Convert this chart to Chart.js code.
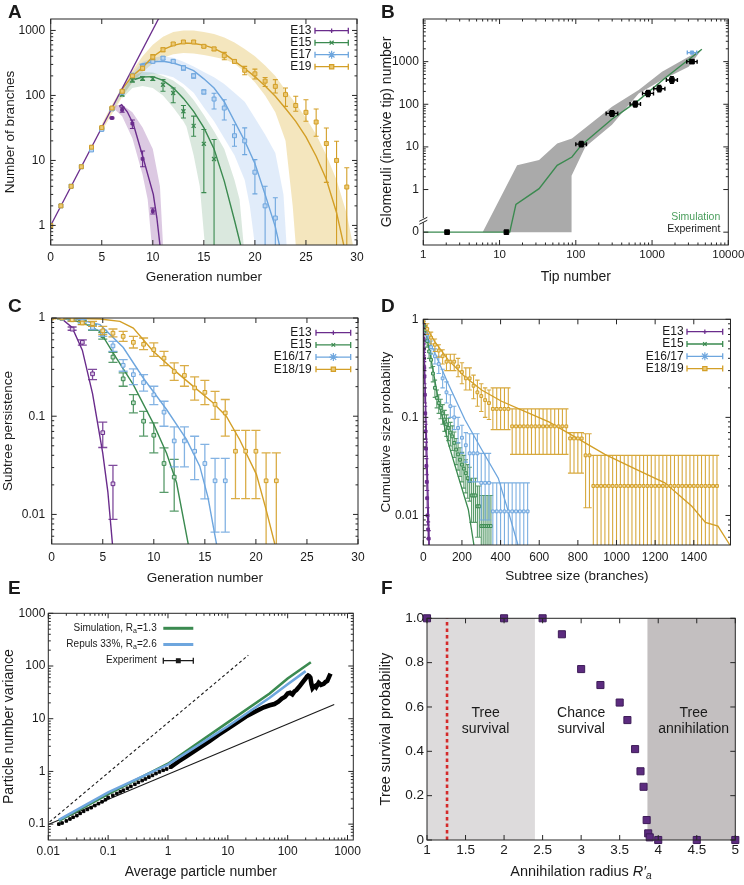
<!DOCTYPE html>
<html>
<head>
<meta charset="utf-8">
<title>Branching and annihilation</title>
<script src="https://cdn.jsdelivr.net/npm/chart.js@4.4.1/dist/chart.umd.min.js"></script>
<style>
  body { margin: 0; background: #fff; }
  #fig { position: relative; width: 744px; height: 885px; overflow: hidden; font-family: "Liberation Sans", Arial, sans-serif; color: #1a1a1a; }
  #fig canvas { position: absolute; }
  .tag { position: absolute; font-size: 19px; font-weight: bold; line-height: 19px; }
  .xt { position: absolute; font-size: 14.5px; line-height: 17px; text-align: center; }
  .xt sub { font-size: 70%; vertical-align: -3px; line-height: 0; }
</style>
</head>
<body>
<div id="fig">
  <canvas id="A"></canvas>
  <canvas id="B"></canvas>
  <canvas id="C"></canvas>
  <canvas id="D"></canvas>
  <canvas id="E"></canvas>
  <canvas id="F"></canvas>
  <div class="tag" style="left:8px;top:2px">A</div>
  <div class="tag" style="left:381px;top:2px">B</div>
  <div class="tag" style="left:8px;top:296px">C</div>
  <div class="tag" style="left:381px;top:296px">D</div>
  <div class="tag" style="left:8px;top:578px">E</div>
  <div class="tag" style="left:381px;top:578px">F</div>
  <div class="xt" style="left:427px;width:308px;top:863px">Annihilation radius <i>R′<sub>a</sub></i></div>
</div>
<script>
const FONT = '"Liberation Sans", Arial, Helvetica, sans-serif';
const INK = '#1a1a1a';
const PURPLE = '#6a2c8c', GREEN = '#3b8a50', BLUE = '#6ea6de', GOLD = '#d39f27';

// ---------- A: branches per generation ----------
const aGen = [0,1,2,3,4,5,6,7,8,9,10,11,12,13,14,15,16,17,18,19,20,21,22,23,24,25,26,27,28,29];
const a13 = [1,2,4,8,16,32,45,60,37,10.6,1.66];
const a13Lo = [1,2,4,8,16,32,44,55,31,8,1.5];
const a13Hi = [1,2,4,8,16,32,46,66,42,14,1.85];
const a15 = [1,2,4,8,15,31,62,103,172,183,180,146,109,57,34,18,10.5];
const a15Lo = [1,2,4,8,15,30,60,98,160,170,170,116,77,45,23.6,3.2,0.3];
const a15Hi = [1,2,4,8,15,32,64,108,185,196,192,175,130,70,48,30,21];
const a17 = [1,2,4,8,14.5,30,62,112,205,275,335,375,335,265,200,113,88,64,24,20,6.6,2,1.3];
const a17Lo = [1,2,4,8,14,29,60,108,195,255,315,355,315,245,185,105,62,42,16.5,12.3,3.06,0.3,0.3];
const a17Hi = [1,2,4,8,15,31,64,116,215,295,355,395,350,285,215,122,108,86,35.5,31.7,10.3,4,2.66];
const a19 = [1,2,4,8,16,32,64,116,200,262,390,505,620,665,665,570,520,408,334,244,215,166,138,103,70,55,39,18.2,10,3.9];
const a19Lo = [1,2,4,8,16,31,62,110,190,245,355,470,590,630,630,545,490,355,315,208,179,137,109,68,57,40,23.5,4.6,0.3,0.3];
const a19Hi = [1,2,4,8,16,33,66,122,210,280,425,540,650,700,700,595,550,460,355,280,254,189,175,130,97,86,62,31.6,19.7,7.7];
const aExp = [[0,1],[11,2048]];
const a13Fit = [[6.7,68],[6.95,72],[7.5,56],[8.1,36],[9.05,11],[10.05,3],[10.4,1.3],[10.7,0.5]];
const a15Fit = [[8.2,176],[9,192],[10,195],[11,170],[12,131],[13,90],[14,57],[15,32],[16,15],[17,4.8],[18,1.2],[18.6,0.5]];
const a17Fit = [[8.7,300],[10,330],[11,335],[12,315],[13,280],[14,240],[15,180],[16,130],[17,80],[18,40],[19,20],[20,9],[21,3],[22,0.95],[22.4,0.5]];
const a19Fit = [[7,125],[8,200],[9,270],[10,395],[11,505],[12,590],[13,640],[14,630],[15,594],[16,530],[17,440],[18,338],[19,260],[20,195],[21,140],[22,97],[23,63],[24,40],[25,23],[26,11.6],[27,5.1],[28,1.57],[28.7,0.5]];
const a13Band = [[6.3,70],[7,72],[8,55],[9,32],[10,15],[10.7,4],[11,0.5],[9.9,0.5],[9.5,2.5],[9,6],[8,22],[7,48],[6.3,60]];
const a15Band = [[7,110],[8,200],[9,230],[10,225],[11,200],[12,170],[13,130],[14,85],[15,50],[16,28],[17,15],[18,5],[18.5,2.5],[18.9,0.5],[15.1,0.5],[14.6,4],[14,12],[13.3,33],[13,40],[12,65],[11,100],[10,130],[9,140],[8,130],[7,90]];
const a17Band = [[6,66],[7,130],[8,220],[9,330],[10,380],[11,400],[12,380],[13,330],[14,280],[15,230],[16,190],[17,150],[18,110],[19,80],[20,45],[21,25],[22,13],[22.8,3],[23.1,0.5],[20,0.5],[19.5,2],[19,5],[18,12],[17,22],[16,40],[15,65],[14,110],[13,150],[12,190],[11,210],[10,215],[9,200],[8,160],[7,100],[6,58]];
const a19Band = [[5,36],[6,72],[7,135],[8,240],[9,400],[10,600],[11,800],[12,950],[13,1000],[14,1000],[15,950],[16,880],[17,780],[18,650],[19,520],[20,400],[21,290],[22,200],[23,120],[24,75],[25,45],[26,25],[27,12],[28,5],[29,1.5],[29.6,0.5],[24,0.5],[23.7,2],[23,20],[22,55],[21,100],[20,160],[19,230],[18,310],[17,360],[16,390],[15,420],[14,440],[13,450],[12,430],[11,380],[10,310],[9,230],[8,160],[7,95],[6,52],[5,28]];

// ---------- B: glomeruli vs tips ----------
const bTips = [2.05,12.3,118,298,603,885,1245,1820,3340];
const bTipLo = [2.05,12.3,100,250,515,750,1050,1540,2850];
const bTipHi = [2.05,12.3,138,355,705,1045,1475,2150,3900];
const bGlom = [0.1,0.1,11.6,61,101,180,232,371,1000];
const bGlomLo = [0.1,0.1,10,52,86,152,196,310,920];
const bGlomHi = [0.1,0.1,13.4,71,118,212,275,445,1080];
const bBlueTip = [3340], bBlueTipLo = [2900], bBlueTipHi = [3850], bBlueGlom = [1630];
const bSim = [[1,0.1],[13.6,0.1],[16.4,0.45],[33,1.05],[57,3.7],[89,5.8],[118,11],[300,45],[670,125],[1500,420],[4500,1950]];
const bRange = [[6,0.1],[17,3.7],[33,4.9],[57,12],[89,15.8],[298,87],[668,215],[1350,580],[4500,1950],[3020,760],[1350,370],[668,180],[298,33],[133,10],[88,2.1],[88,0.1]];

// ---------- C: subtree persistence ----------
const cGen13 = [2,3,4,5,6];
const c13 = [0.77,0.566,0.27,0.068,0.0205];
const c13Lo = [0.75,0.53,0.236,0.048,0.0089];
const c13Hi = [0.81,0.6,0.3,0.087,0.0316];
const cGen15 = [1,2,3,4,5,6,7,8,9,10,11,12];
const c15 = [0.99,0.96,0.9,0.8,0.66,0.4,0.24,0.137,0.089,0.064,0.033,0.024];
const c15Lo = [0.97,0.93,0.86,0.75,0.61,0.354,0.202,0.108,0.0627,0.0424,0.0168,0.0108];
const c15Hi = [1,0.99,0.94,0.85,0.71,0.448,0.276,0.166,0.112,0.0856,0.0477,0.0364];
const cGen17 = [1,2,3,4,5,6,7,8,9,10,11,12,13,14,15,16,17];
const c17 = [0.99,0.97,0.93,0.8,0.7,0.52,0.33,0.265,0.22,0.165,0.11,0.056,0.056,0.044,0.033,0.022,0.022];
const c17Lo = [0.97,0.94,0.89,0.76,0.65,0.458,0.287,0.21,0.18,0.131,0.079,0.0305,0.0305,0.0226,0.0144,0.0066,0.0066];
const c17Hi = [1,1,0.97,0.84,0.75,0.579,0.377,0.303,0.265,0.202,0.142,0.078,0.078,0.0625,0.0516,0.0372,0.0372];
const cGen19 = [0,1,2,3,4,5,6,7,8,9,10,11,12,13,14,15,16,17,18,19,20,21,22];
const c19 = [1,1,0.96,0.89,0.875,0.74,0.7,0.65,0.565,0.54,0.476,0.39,0.285,0.26,0.194,0.175,0.132,0.108,0.044,0.044,0.044,0.022,0.022];
const c19Lo = [0.98,0.98,0.93,0.855,0.823,0.677,0.641,0.579,0.495,0.476,0.407,0.328,0.232,0.202,0.146,0.131,0.0927,0.0627,0.0145,0.0145,0.0145,0.004,0.004];
const c19Hi = [1,1,0.99,0.925,0.925,0.823,0.773,0.732,0.651,0.626,0.557,0.458,0.349,0.328,0.251,0.232,0.179,0.148,0.0719,0.0719,0.0719,0.0424,0.0424];
const c13Fit = [[0,1],[1,0.98],[2,0.8],[3,0.47],[4,0.17],[5,0.042],[5.5,0.017],[5.95,0.005]];
const c15Fit = [[0,1],[1.5,0.98],[3.1,0.89],[4.73,0.73],[6.03,0.44],[7.99,0.21],[9.94,0.085],[11.25,0.042],[12.23,0.021],[13.37,0.005]];
const c17Fit = [[0,1],[2.5,0.97],[4.73,0.855],[7.01,0.5],[8.97,0.245],[11.25,0.117],[13.2,0.058],[14.5,0.031],[15.3,0.015],[16.14,0.005]];
const c19Fit = [[0,1],[4.73,0.977],[6.68,0.925],[7.99,0.79],[9.94,0.458],[11.9,0.3],[13.9,0.2],[15.8,0.137],[17.1,0.1],[18.4,0.058],[20.05,0.0256],[21,0.0112],[21.85,0.005]];

// ---------- D: cumulative subtree size ----------
const dSize13 = [0,1,2,3,4,5,6,8,10,12,14,16,18,20,22,25,28];
const d13 = [1,0.8,0.63,0.5,0.4,0.32,0.26,0.17,0.11,0.072,0.048,0.032,0.022,0.015,0.01,0.0072,0.0058];
const d13Lo = [0.9,0.7,0.55,0.43,0.34,0.27,0.22,0.14,0.09,0.06,0.04,0.026,0.018,0.012,0.008,0.0058,0.0046];
const d13Hi = [1,0.9,0.72,0.57,0.46,0.37,0.3,0.2,0.13,0.085,0.056,0.038,0.026,0.018,0.012,0.0086,0.007];
const dSize15 = [0,10,20,30,40,50,60,70,80,90,100,110,120,130,140,150,160,170,180,190,200,210,220,230,240,250,260,270,280,290,300,310,320,330,340,350];
const d15 = [1,0.78,0.6,0.47,0.386,0.28,0.2,0.158,0.14,0.125,0.11,0.095,0.085,0.078,0.07,0.064,0.055,0.047,0.042,0.037,0.033,0.03,0.027,0.024,0.0224,0.016,0.016,0.016,0.0124,0.0124,0.0078,0.0078,0.0078,0.0078,0.0078,0.0078];
const d15Lo = [0.95,0.7,0.52,0.4,0.32,0.23,0.16,0.125,0.11,0.097,0.085,0.072,0.064,0.058,0.051,0.046,0.039,0.033,0.029,0.025,0.022,0.019,0.017,0.015,0.014,0.0085,0.0085,0.0085,0.006,0.006,0.003,0.003,0.003,0.003,0.003,0.003];
const d15Hi = [1,0.86,0.68,0.54,0.45,0.33,0.24,0.19,0.17,0.153,0.135,0.118,0.106,0.098,0.089,0.082,0.071,0.061,0.055,0.049,0.044,0.041,0.037,0.033,0.031,0.024,0.024,0.024,0.02,0.02,0.016,0.016,0.016,0.016,0.016,0.016];
const dSize17 = [0,20,40,60,80,100,120,140,160,180,200,220,240,260,280,300,320,340,360,380,400,420,440,460,480,500,520,540];
const d17 = [1,0.7,0.52,0.42,0.35,0.25,0.18,0.13,0.1,0.078,0.062,0.052,0.043,0.043,0.043,0.0215,0.0215,0.0215,0.011,0.011,0.011,0.011,0.011,0.011,0.011,0.011,0.011,0.011];
const d17Lo = [0.95,0.6,0.44,0.35,0.28,0.2,0.14,0.1,0.075,0.055,0.043,0.035,0.022,0.022,0.022,0.009,0.009,0.009,0.001,0.001,0.001,0.001,0.001,0.001,0.001,0.001,0.001,0.001];
const d17Hi = [1,0.8,0.6,0.5,0.42,0.31,0.23,0.17,0.13,0.1,0.083,0.07,0.068,0.068,0.068,0.043,0.043,0.043,0.0215,0.0215,0.0215,0.0215,0.0215,0.0215,0.0215,0.0215,0.0215,0.0215];
const dSize19 = [0,20,40,60,80,100,120,140,160,180,200,220,240,260,280,300,320,340,360,380,400,420,440,460,480,500,520,540,560,580,600,620,640,660,680,700,720,740,760,780,800,820,840,860,880,900,920,940,960,980,1000,1020,1040,1060,1080,1100,1120,1140,1160,1180,1200,1220,1240,1260,1280,1300,1320,1340,1360,1380,1400,1420,1440,1460,1480,1500,1520];
const d19 = [1,0.8,0.65,0.55,0.48,0.42,0.37,0.37,0.37,0.33,0.29,0.25,0.25,0.21,0.18,0.165,0.15,0.14,0.122,0.122,0.122,0.122,0.122,
  0.081,0.081,0.081,0.081,0.081,0.081,0.081,0.081,0.081,0.081,0.081,0.081,0.081,0.081,0.081,
  0.061,0.061,0.061,0.061,0.041,0.041,
  0.02,0.02,0.02,0.02,0.02,0.02,0.02,0.02,0.02,0.02,0.02,0.02,0.02,0.02,0.02,0.02,0.02,0.02,0.02,0.02,0.02,0.02,0.02,0.02,0.02,0.02,0.02,0.02,0.02,0.02,0.02,0.02,0.02];
const d19Lo = [0.95,0.7,0.56,0.47,0.41,0.35,0.3,0.3,0.3,0.26,0.22,0.19,0.19,0.155,0.13,0.115,0.1,0.095,0.075,0.075,0.075,0.075,0.075,
  0.042,0.042,0.042,0.042,0.042,0.042,0.042,0.042,0.042,0.042,0.042,0.042,0.042,0.042,0.042,
  0.027,0.027,0.027,0.027,0.012,0.012,
  0.001,0.001,0.001,0.001,0.001,0.001,0.001,0.001,0.001,0.001,0.001,0.001,0.001,0.001,0.001,0.001,0.001,0.001,0.001,0.001,0.001,0.001,0.001,0.001,0.001,0.001,0.001,0.001,0.001,0.001,0.001,0.001,0.001];
const d19Hi = [1,0.9,0.74,0.63,0.55,0.49,0.44,0.44,0.44,0.4,0.36,0.32,0.32,0.27,0.24,0.22,0.2,0.19,0.2,0.2,0.2,0.2,0.2,
  0.122,0.122,0.122,0.122,0.122,0.122,0.122,0.122,0.122,0.122,0.122,0.122,0.122,0.122,0.122,
  0.07,0.07,0.07,0.07,0.068,0.068,
  0.041,0.041,0.041,0.041,0.041,0.041,0.041,0.041,0.041,0.041,0.041,0.041,0.041,0.041,0.041,0.041,0.041,0.041,0.041,0.041,0.041,0.041,0.041,0.041,0.041,0.041,0.041,0.041,0.041,0.041,0.041,0.041,0.041];
const d13Fit = [[0,1],[10,0.2],[20,0.035],[31,0.005]];
const d15Fit = [[0,1],[35,0.45],[78,0.15],[129,0.055],[181,0.025],[233,0.0115],[262,0.005]];
const d17Fit = [[0,1],[30,0.6],[60,0.45],[129,0.22],[215,0.095],[302,0.047],[388,0.024],[440,0.011],[490,0.005]];
const d19Fit = [[0,1],[20,0.8],[60,0.59],[129,0.386],[215,0.26],[302,0.19],[405,0.146],[525,0.115],[650,0.09],[780,0.064],[940,0.042],[1110,0.029],[1250,0.0215],[1390,0.0124],[1460,0.0085],[1525,0.0078],[1587,0.005]];

// ---------- E: number fluctuations ----------
const eMean = [0.015,0.017,0.02,0.023,0.026,0.03,0.034,0.039,0.045,0.052,0.06,0.069,0.079,0.09,0.1,0.12,0.14,0.16,0.18,0.21,0.24,0.28,0.32,0.37,0.42,0.48,0.55,0.63,0.72,0.83,0.95,1.1,
  1.5,2,3,5,7,10,15,20,30,40,50,60,70,80,90,100,110,120,130,140,160,180,200,210,220,230,240,250,260,270,290,300,330,360,400,430,460,500,520];
const eVar = [0.1,0.105,0.115,0.125,0.135,0.145,0.16,0.175,0.19,0.205,0.225,0.245,0.265,0.29,0.32,0.35,0.38,0.41,0.44,0.48,0.52,0.57,0.62,0.67,0.72,0.78,0.84,0.91,0.98,1.05,1.11,1.2,
  1.55,1.9,2.6,3.8,5,6.5,8.8,11,14,16.5,18,19,21,24,26,30,31,29,33,35,42,50,58,63,66,64,60,45,38,40,42,40,48,44,46,50,52,65,72];
const eSim = [[0.015,0.115],[0.1,0.37],[1,1.4],[10,8.5],[50,30],[100,58],[244,118]];
const eRepuls = [[0.015,0.12],[0.1,0.4],[1,1.35],[10,7.2],[50,25],[100,45],[200,80]];
const eSteep = [[0.0105,0.11],[22,160]];
const eShallow = [[0.01,0.098],[600,18.6]];

// ---------- F: survival vs annihilation radius ----------
const fRadius = [1,2,2.5,2.75,3,3.25,3.5,3.6,3.7,3.77,3.81,3.85,3.87,3.89,4,4.5,5];
const fSurvive = [1,1,1,0.928,0.771,0.699,0.62,0.541,0.41,0.31,0.24,0.09,0.03,0.012,0,0,0];
const fSafeZone = [[1,0],[2.4,0],[2.4,1],[1,1]];
const fDeathZone = [[3.86,0],[5,0],[5,1],[3.86,1]];
const fCutoff = [[1.26,0],[1.26,1]];

// legends, notes and frame extras, per canvas
const EXTRA = {
  A: {key: {top: 11.7, row: 12, right: 8.7, sw: 33.3, gap: 3.5, size: 12, items: [
    {runs: [['E13']], color: PURPLE, caps: true, marker: {style: 'cross', r: 2.2}},
    {runs: [['E15']], color: GREEN, caps: true, marker: {style: 'crossRot', r: 2.8}},
    {runs: [['E17']], color: BLUE, caps: true, marker: {style: 'star', r: 4}},
    {runs: [['E19']], color: GOLD, caps: true, marker: {style: 'rect', r: 3, bg: '#ebc873'}}]}},
  B: {minorFrom: {y: 1}, brk: 0.19, key: {bottom: 28.3, row: 12.6, right: 8, sw: 0, gap: 0, size: 10.5, items: [
    {runs: [['Simulation']], textColor: '#4a9e5c'},
    {runs: [['Experiment']]}]}},
  C: {key: {top: 14.7, row: 12.2, right: 7.3, sw: 34.7, gap: 4.3, size: 12, items: [
    {runs: [['E13']], color: PURPLE, caps: true, marker: {style: 'cross', r: 2.2}},
    {runs: [['E15']], color: GREEN, caps: true, marker: {style: 'crossRot', r: 2.5}},
    {runs: [['E16/17']], color: BLUE, caps: true, marker: {style: 'star', r: 4}},
    {runs: [['E18/19']], color: GOLD, caps: true, marker: {style: 'rect', r: 3, bg: '#ebc873'}}]}},
  D: {key: {top: 12.4, row: 12.3, right: 7.8, sw: 35.7, gap: 3.3, size: 12, items: [
    {runs: [['E13']], color: PURPLE, caps: true, marker: {style: 'cross', r: 2.2}},
    {runs: [['E15']], color: GREEN, caps: true, marker: {style: 'crossRot', r: 2.5}},
    {runs: [['E16/17']], color: BLUE, caps: true, marker: {style: 'star', r: 4}},
    {runs: [['E18/19']], color: GOLD, caps: true, marker: {style: 'rect', r: 3, bg: '#ebc873'}}]}},
  E: {key: {top: 15, row: 16.2, left: 115, sw: 30, gap: 6.6, size: 10, items: [
    {runs: [['Simulation, R'], ['a', 1], ['=1.3']], color: GREEN, lw: 3},
    {runs: [['Repuls 33%, R'], ['a', 1], ['=2.6']], color: BLUE, lw: 3},
    {runs: [['Experiment']], color: INK, lw: 1.3, caps: true, marker: {style: 'rect', r: 2.6}}]}},
  F: {notes: [[1.76, 0.574, 'Tree'], [1.76, 0.5, 'survival'], [3.0, 0.574, 'Chance'], [3.0, 0.5, 'survival'], [4.46, 0.574, 'Tree'], [4.46, 0.5, 'annihilation']]}
};

function runs(ctx, parts, xr, y, size, color) {
  const px = p => (p[1] ? size * 0.7 : size) + 'px ' + FONT;
  let w = 0;
  parts.forEach(p => { ctx.font = px(p); w += ctx.measureText(p[0]).width; });
  let x = xr - w;
  ctx.fillStyle = color; ctx.textBaseline = 'middle'; ctx.textAlign = 'left';
  parts.forEach(p => {
    ctx.font = px(p);
    ctx.fillText(p[0], x, p[1] ? y + size * 0.3 : y);
    x += ctx.measureText(p[0]).width;
  });
}

const errPlugin = {
  id: 'err',
  beforeDatasetDraw(chart, args) {
    const ds = chart.data.datasets[args.index];
    if (!ds.yLo && !ds.xLo) return;
    const {ctx, chartArea: a} = chart, xs = chart.scales.x, ys = chart.scales.y;
    const c = ds.cap == null ? 2.5 : ds.cap;
    ctx.save();
    ctx.beginPath(); ctx.rect(a.left, a.top, a.right - a.left, a.bottom - a.top); ctx.clip();
    ctx.strokeStyle = ds.errColor; ctx.lineWidth = ds.errWidth || 1;
    ctx.beginPath();
    ds.data.forEach((p, i) => {
      const px = xs.getPixelForValue(p.x), py = ys.getPixelForValue(p.y);
      if (ds.yLo && ds.yLo[i] !== ds.yHi[i]) {
        const y1 = ys.getPixelForValue(ds.yLo[i]), y2 = ys.getPixelForValue(ds.yHi[i]);
        ctx.moveTo(px, y1); ctx.lineTo(px, y2);
        ctx.moveTo(px - c, y1); ctx.lineTo(px + c, y1);
        ctx.moveTo(px - c, y2); ctx.lineTo(px + c, y2);
      }
      if (ds.xLo && ds.xLo[i] !== ds.xHi[i]) {
        const x1 = xs.getPixelForValue(ds.xLo[i]), x2 = xs.getPixelForValue(ds.xHi[i]);
        ctx.moveTo(x1, py); ctx.lineTo(x2, py);
        ctx.moveTo(x1, py - c); ctx.lineTo(x1, py + c);
        ctx.moveTo(x2, py - c); ctx.lineTo(x2, py + c);
      }
    });
    ctx.stroke();
    ctx.restore();
  }
};

const framePlugin = {
  id: 'frame',
  afterDatasetsDraw(chart) {
    const ex = EXTRA[chart.canvas.id] || {};
    const {ctx, chartArea: a} = chart;
    ctx.save();
    ctx.strokeStyle = '#262626'; ctx.lineWidth = 1;
    ctx.beginPath();
    const mark = (s, v, len) => {
      const p = s.getPixelForValue(v);
      if (s.isHorizontal()) {
        if (p < a.left - 0.5 || p > a.right + 0.5) return;
        ctx.moveTo(p, a.bottom); ctx.lineTo(p, a.bottom - len);
        ctx.moveTo(p, a.top); ctx.lineTo(p, a.top + len);
      } else {
        if (p < a.top - 0.5 || p > a.bottom + 0.5) return;
        ctx.moveTo(a.left, p); ctx.lineTo(a.left + len, p);
        ctx.moveTo(a.right, p); ctx.lineTo(a.right - len, p);
      }
    };
    [chart.scales.x, chart.scales.y].forEach(s => {
      s.ticks.forEach(t => mark(s, t.value, 5));
      if (s.type === 'logarithmic') {
        const from = (ex.minorFrom && ex.minorFrom[s.axis]) || 0;
        const lo = Math.floor(Math.log10(s.min)), hi = Math.ceil(Math.log10(s.max));
        for (let d = lo; d <= hi; d++) {
          for (let k = 2; k < 10; k++) {
            const v = k * Math.pow(10, d);
            if (v > s.min && v < s.max && v >= from) mark(s, v, 2.5);
          }
        }
      }
    });
    ctx.stroke();
    ctx.strokeRect(a.left, a.top, a.right - a.left, a.bottom - a.top);
    if (ex.brk) {
      const p = chart.scales.y.getPixelForValue(ex.brk);
      ctx.fillStyle = '#fff';
      ctx.fillRect(a.left - 4, p - 2, 8, 4);
      ctx.beginPath();
      ctx.moveTo(a.left - 4, p + 1); ctx.lineTo(a.left + 4, p - 3);
      ctx.moveTo(a.left - 4, p + 4); ctx.lineTo(a.left + 4, p);
      ctx.stroke();
    }
    ctx.restore();
  }
};

const keyPlugin = {
  id: 'key',
  afterDraw(chart) {
    const ex = EXTRA[chart.canvas.id];
    if (!ex) return;
    const {ctx, chartArea: a} = chart;
    ctx.save();
    if (ex.key) {
      const k = ex.key;
      k.items.forEach((it, i) => {
        const y = k.bottom != null ? a.bottom - k.bottom + i * k.row : a.top + k.top + i * k.row;
        const x0 = k.left != null ? a.left + k.left : a.right - k.right - k.sw;
        runs(ctx, it.runs, x0 - k.gap, y, k.size, it.textColor || INK);
        if (!k.sw) return;
        ctx.strokeStyle = it.color; ctx.lineWidth = it.lw || 1.3;
        ctx.beginPath();
        ctx.moveTo(x0, y); ctx.lineTo(x0 + k.sw, y);
        if (it.caps) {
          ctx.moveTo(x0, y - 3); ctx.lineTo(x0, y + 3);
          ctx.moveTo(x0 + k.sw, y - 3); ctx.lineTo(x0 + k.sw, y + 3);
        }
        ctx.stroke();
        if (it.marker) {
          ctx.fillStyle = it.marker.bg || it.color; ctx.lineWidth = 1.2;
          Chart.helpers.drawPoint(ctx, {pointStyle: it.marker.style, radius: it.marker.r, rotation: 0, borderWidth: 1.2}, x0 + k.sw / 2, y);
        }
      });
    }
    if (ex.notes) {
      ctx.font = '14px ' + FONT; ctx.fillStyle = INK; ctx.textAlign = 'center'; ctx.textBaseline = 'middle';
      ex.notes.forEach(n => ctx.fillText(n[2], chart.scales.x.getPixelForValue(n[0]), chart.scales.y.getPixelForValue(n[1])));
    }
    ctx.restore();
  }
};

function xy(xs, ys) { return xs.map((x, i) => ({x: x, y: ys[i]})); }
function pr(list) { return list.map(p => ({x: p[0], y: p[1]})); }

function pts(xs, ys, lo, hi, st) {
  return {
    data: xy(xs, ys), showLine: false, order: 0, clip: st.clip,
    pointStyle: st.style, pointRadius: st.r, pointHoverRadius: st.r,
    pointBackgroundColor: st.bg || 'rgba(0,0,0,0)', pointBorderColor: st.color, pointBorderWidth: st.bw || 1,
    yLo: lo, yHi: hi, xLo: st.xLo, xHi: st.xHi,
    errColor: st.ecolor || st.color, errWidth: st.ew || 1.1, cap: st.cap
  };
}
function curve(list, color, w, dash) {
  return {data: pr(list), showLine: true, fill: false, borderColor: color, borderWidth: w || 1.4,
          borderDash: dash || [], pointRadius: 0, pointHoverRadius: 0, order: 3};
}
function band(list, color) {
  return {data: pr(list), showLine: true, fill: 'shape', backgroundColor: color, borderColor: 'rgba(0,0,0,0)',
          borderWidth: 0, pointRadius: 0, pointHoverRadius: 0, order: 9};
}

Chart.defaults.font.family = FONT;
Chart.defaults.color = INK;

function axis(o) {
  return {
    type: o.type, min: o.min, max: o.max,
    grid: {display: false, drawTicks: false},
    border: {display: false},
    ticks: {autoSkip: false, maxRotation: 0, minRotation: 0, padding: o.pad, color: INK,
            font: {size: o.size || 12}, callback: o.fmt || (v => String(v))},
    title: {display: !!o.title, text: o.title || '', color: INK, font: {size: o.tsize || 13.5},
            padding: {top: o.tpad, bottom: o.tpad}},
    afterBuildTicks: s => { s.ticks = o.ticks.map(v => ({value: v})); },
    afterFit: s => {
      if (o.isX) s.height = o.fit; else s.width = o.fit;
      s.paddingLeft = 0; s.paddingRight = 0; s.paddingTop = 0; s.paddingBottom = 0;
    }
  };
}

function panel(id, box, plot, xo, yo, datasets) {
  const cv = document.getElementById(id);
  cv.width = box.w; cv.height = box.h;
  Object.assign(cv.style, {left: box.x + 'px', top: box.y + 'px', width: box.w + 'px', height: box.h + 'px'});
  xo.isX = true; xo.fit = box.y + box.h - plot.b;
  yo.fit = plot.l - box.x;
  return new Chart(cv, {
    type: 'scatter',
    data: {datasets: datasets},
    options: {
      responsive: false, animation: false, devicePixelRatio: 1,
      layout: {padding: {left: 0, bottom: 0, top: plot.t - box.y, right: box.x + box.w - plot.r}},
      plugins: {legend: {display: false}, tooltip: {enabled: false}},
      scales: {x: axis(xo), y: axis(yo)}
    },
    plugins: [errPlugin, framePlugin, keyPlugin]
  });
}

// A  (first dataset is drawn on top)
panel('A', {x: 0, y: 0, w: 372, h: 290}, {l: 50.7, t: 19, r: 357, b: 245},
  {type: 'linear', min: 0, max: 30, ticks: [0,5,10,15,20,25,30], title: 'Generation number', pad: 5, tpad: 4.8},
  {type: 'logarithmic', min: 0.5, max: 1500, ticks: [1,10,100,1000], title: 'Number of branches', pad: 5.5, tpad: 1.9},
  [
    pts(aGen, a19, a19Lo, a19Hi, {style: 'rect', r: 2.8, bg: '#ebc873', color: GOLD, cap: 2.5}),
    pts(aGen.slice(0, 23), a17, a17Lo, a17Hi, {style: 'rect', r: 2.8, bg: '#b9d4f2', color: BLUE, cap: 2.5}),
    pts(aGen.slice(0, 17), a15, a15Lo, a15Hi, {style: 'crossRot', r: 2.8, color: GREEN, bw: 1.3, cap: 2.5}),
    pts(aGen.slice(0, 11), a13, a13Lo, a13Hi, {style: 'rect', r: 2, bg: PURPLE, color: PURPLE, cap: 2.5}),
    curve(aExp, PURPLE, 1.3),
    curve(a19Fit, GOLD), curve(a17Fit, BLUE), curve(a15Fit, GREEN), curve(a13Fit, PURPLE),
    band(a13Band, 'rgba(128,60,150,0.28)'), band(a15Band, 'rgba(70,140,90,0.2)'),
    band(a17Band, 'rgba(120,170,230,0.22)'), band(a19Band, 'rgba(222,178,52,0.32)')
  ]);

// B
panel('B', {x: 372, y: 0, w: 372, h: 290}, {l: 423.3, t: 19, r: 728.3, b: 245},
  {type: 'logarithmic', min: 1, max: 10000, ticks: [1,10,100,1000,10000], title: 'Tip number', size: 11.5, tsize: 14, pad: 3, tpad: 4.6},
  {type: 'logarithmic', min: 0.05, max: 10000, ticks: [0.1,1,10,100,1000], fmt: v => (v === 0.1 ? '0' : String(v)),
   title: 'Glomeruli (inactive tip) number', tsize: 14, pad: 4.5, tpad: 6.6},
  [
    pts(bBlueTip, bBlueGlom, null, null, {style: 'rect', r: 2.3, bg: BLUE, color: BLUE, xLo: bBlueTipLo, xHi: bBlueTipHi, ew: 1.4, cap: 2}),
    pts(bTips, bGlom, bGlomLo, bGlomHi, {style: 'rect', r: 3.3, bg: '#000', color: '#000', xLo: bTipLo, xHi: bTipHi, ew: 1.4, cap: 2}),
    curve(bSim, GREEN, 1.4),
    band(bRange, '#aaaaaa')
  ]);

// C
panel('C', {x: 0, y: 290, w: 372, h: 300}, {l: 51.7, t: 318, r: 358, b: 544},
  {type: 'linear', min: 0, max: 30, ticks: [0,5,10,15,20,25,30], title: 'Generation number', pad: 6, tpad: 3.9},
  {type: 'logarithmic', min: 0.005, max: 1, ticks: [0.01,0.1,1], title: 'Subtree persistence', pad: 6.5, tpad: 0.6},
  [
    pts(cGen19, c19, c19Lo, c19Hi, {style: 'rect', r: 2.6, bg: '#f3dfa8', color: GOLD, ecolor: 'rgba(211,159,39,0.85)', ew: 1.3, cap: 4.5}),
    pts(cGen17, c17, c17Lo, c17Hi, {style: 'rect', r: 2.6, bg: '#d5e6f8', color: BLUE, ecolor: 'rgba(110,166,222,0.85)', ew: 1.3, cap: 4.5}),
    pts(cGen15, c15, c15Lo, c15Hi, {style: 'rect', r: 2.6, bg: '#c3e0cb', color: GREEN, ecolor: 'rgba(59,138,80,0.85)', ew: 1.3, cap: 4.5}),
    pts(cGen13, c13, c13Lo, c13Hi, {style: 'rect', r: 2.6, bg: '#dccbe6', color: PURPLE, ecolor: 'rgba(106,44,140,0.85)', ew: 1.3, cap: 4.5}),
    curve(c19Fit, GOLD), curve(c17Fit, BLUE), curve(c15Fit, GREEN), curve(c13Fit, PURPLE)
  ]);

// D
panel('D', {x: 372, y: 290, w: 372, h: 300}, {l: 423.3, t: 319.3, r: 730.5, b: 545},
  {type: 'linear', min: 0, max: 1590, ticks: [0,200,400,600,800,1000,1200,1400], title: 'Subtree size (branches)', pad: 5.5, tpad: 5.2},
  {type: 'logarithmic', min: 0.005, max: 1, ticks: [0.01,0.1,1], title: 'Cumulative size probability', pad: 5, tpad: 5.9},
  [
    pts(dSize19, d19, d19Lo, d19Hi, {style: 'rect', r: 2, bg: '#f0d9a0', color: GOLD, ecolor: 'rgba(211,159,39,0.9)', cap: 2.2}),
    pts(dSize17, d17, d17Lo, d17Hi, {style: 'rect', r: 2, bg: '#cfe2f7', color: BLUE, ecolor: 'rgba(110,166,222,0.9)', cap: 2.2}),
    pts(dSize15, d15, d15Lo, d15Hi, {style: 'rect', r: 2, bg: '#a9d2b4', color: GREEN, ecolor: 'rgba(59,138,80,0.85)', cap: 2.2}),
    pts(dSize13, d13, d13Lo, d13Hi, {style: 'rect', r: 2, bg: PURPLE, color: PURPLE, cap: 2}),
    curve(d19Fit, GOLD, 1.3), curve(d17Fit, BLUE, 1.3), curve(d15Fit, GREEN, 1.3), curve(d13Fit, PURPLE, 1.3)
  ]);

// E
panel('E', {x: 0, y: 590, w: 372, h: 295}, {l: 48.3, t: 613.3, r: 353.3, b: 840},
  {type: 'logarithmic', min: 0.01, max: 1250, ticks: [0.01,0.1,1,10,100,1000], title: 'Average particle number', tsize: 14, pad: 4, tpad: 4.9},
  {type: 'logarithmic', min: 0.05, max: 1000, ticks: [0.1,1,10,100,1000], title: 'Particle number variance', tsize: 14, pad: 3, tpad: 0.8},
  [
    curve(eRepuls, BLUE, 2.6),
    curve(eSim, GREEN, 2.6),
    pts(eMean.slice(0, 32), eVar.slice(0, 32), null, null, {style: 'rect', r: 1.8, bg: '#000', color: '#000'}),
    Object.assign(curve(xy(eMean.slice(31), eVar.slice(31)).map(p => [p.x, p.y]), '#000', 4.5), {order: 4}),
    curve(eSteep, INK, 1.1, [3, 2.5]),
    curve(eShallow, INK, 1.1)
  ]);

// F
panel('F', {x: 372, y: 590, w: 372, h: 295}, {l: 427, t: 618.3, r: 735.3, b: 840},
  {type: 'linear', min: 1, max: 5, ticks: [1,1.5,2,2.5,3,3.5,4,4.5,5], size: 13.5, pad: 2.5},
  {type: 'linear', min: 0, max: 1, ticks: [0,0.2,0.4,0.6,0.8,1], fmt: v => (v === 1 ? '1.0' : String(v)),
   size: 13.5, title: 'Tree survival probability', tsize: 14.5, pad: 3, tpad: 5.5},
  [
    pts(fRadius, fSurvive, null, null, {style: 'rect', r: 5, bg: '#5c2b7f', color: '#3e1c58', clip: false}),
    curve(fCutoff, '#d42a2a', 2.6, [3.5, 3]),
    band(fSafeZone, '#dddbdc'),
    band(fDeathZone, '#c3bfc0')
  ]);
</script>
</body>
</html>
